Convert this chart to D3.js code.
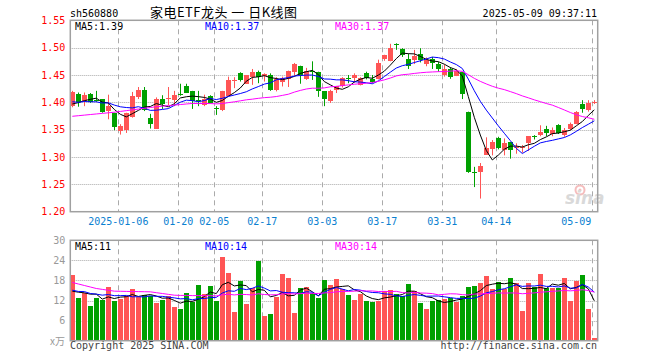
<!DOCTYPE html>
<html>
<head>
<meta charset="utf-8">
<script src="https://cdn.jsdelivr.net/npm/d3@7"></script>
<style>
  body { margin: 0; background: #fff; }
  text { font-family: "DejaVu Sans Mono", monospace; font-size: 10px; }
</style>
</head>
<body>
<div class="chart"></div>
<script>
// Trading days shown
const dates = [
  "2024-12-24","2024-12-25","2024-12-26","2024-12-27","2024-12-30","2024-12-31",
  "2025-01-02","2025-01-03","2025-01-06","2025-01-07","2025-01-08","2025-01-09","2025-01-10",
  "2025-01-13","2025-01-14","2025-01-15","2025-01-16","2025-01-17","2025-01-20","2025-01-21",
  "2025-01-22","2025-01-23","2025-01-24","2025-01-27","2025-02-05","2025-02-06","2025-02-07",
  "2025-02-10","2025-02-11","2025-02-12","2025-02-13","2025-02-14","2025-02-17","2025-02-18",
  "2025-02-19","2025-02-20","2025-02-21","2025-02-24","2025-02-25","2025-02-26","2025-02-27",
  "2025-02-28","2025-03-03","2025-03-04","2025-03-05","2025-03-06","2025-03-07","2025-03-10",
  "2025-03-11","2025-03-12","2025-03-13","2025-03-14","2025-03-17","2025-03-18","2025-03-19",
  "2025-03-20","2025-03-21","2025-03-24","2025-03-25","2025-03-26","2025-03-27","2025-03-28",
  "2025-03-31","2025-04-01","2025-04-02","2025-04-03","2025-04-07","2025-04-08","2025-04-09",
  "2025-04-10","2025-04-11","2025-04-14","2025-04-15","2025-04-16","2025-04-17","2025-04-18",
  "2025-04-21","2025-04-22","2025-04-23","2025-04-24","2025-04-25","2025-04-28","2025-04-29",
  "2025-04-30","2025-05-06","2025-05-07","2025-05-08","2025-05-09"
];

const open = [
  1.394,1.415,1.403,1.415,1.405,1.406,1.383,1.381,1.347,1.349,
  1.373,1.410,1.423,1.372,1.353,1.407,1.407,1.404,1.415,1.430,
  1.421,1.404,1.396,1.412,1.389,1.385,1.412,1.440,1.453,1.434,
  1.446,1.455,1.449,1.450,1.421,1.436,1.444,1.456,1.467,1.443,
  1.457,1.455,1.420,1.401,1.421,1.429,1.444,1.444,1.433,1.454,
  1.443,1.443,1.479,1.477,1.506,1.498,1.479,1.477,1.488,1.470,
  1.480,1.471,1.450,1.461,1.448,1.455,1.383,1.272,1.273,1.305,
  1.316,1.335,1.312,1.327,1.317,1.318,1.325,1.339,1.340,1.351,
  1.342,1.358,1.340,1.350,1.361,1.397,1.387,1.400
];
const high = [
  1.421,1.418,1.418,1.417,1.421,1.406,1.414,1.381,1.360,1.381,
  1.419,1.428,1.428,1.379,1.409,1.413,1.428,1.421,1.434,1.434,
  1.421,1.421,1.414,1.413,1.393,1.421,1.447,1.446,1.455,1.450,
  1.461,1.458,1.453,1.453,1.446,1.447,1.458,1.472,1.467,1.463,
  1.475,1.456,1.420,1.423,1.430,1.446,1.450,1.453,1.446,1.456,
  1.450,1.478,1.487,1.507,1.508,1.499,1.489,1.496,1.499,1.482,
  1.483,1.474,1.469,1.464,1.461,1.455,1.383,1.282,1.289,1.336,
  1.331,1.337,1.334,1.327,1.325,1.322,1.338,1.340,1.358,1.357,
  1.354,1.360,1.353,1.363,1.384,1.404,1.404,1.404
];
const low = [
  1.391,1.392,1.393,1.399,1.401,1.381,1.369,1.349,1.341,1.344,
  1.372,1.406,1.384,1.352,1.352,1.388,1.395,1.393,1.412,1.417,
  1.388,1.393,1.393,1.398,1.377,1.384,1.412,1.426,1.438,1.434,
  1.432,1.435,1.438,1.421,1.420,1.429,1.428,1.449,1.434,1.441,
  1.441,1.410,1.393,1.399,1.417,1.427,1.435,1.436,1.431,1.442,
  1.435,1.442,1.476,1.475,1.496,1.483,1.461,1.470,1.473,1.466,
  1.461,1.456,1.447,1.443,1.448,1.406,1.271,1.245,1.224,1.304,
  1.303,1.314,1.303,1.297,1.306,1.308,1.311,1.332,1.338,1.338,
  1.338,1.342,1.337,1.349,1.360,1.381,1.383,1.397
];
const close = [
  1.419,1.401,1.414,1.400,1.404,1.383,1.393,1.355,1.356,1.380,
  1.412,1.423,1.386,1.361,1.407,1.397,1.408,1.414,1.414,1.418,
  1.403,1.403,1.407,1.399,1.388,1.420,1.441,1.441,1.441,1.450,
  1.455,1.446,1.452,1.423,1.442,1.444,1.458,1.470,1.450,1.458,
  1.456,1.420,1.406,1.420,1.429,1.444,1.443,1.450,1.445,1.445,
  1.437,1.472,1.486,1.500,1.505,1.487,1.467,1.484,1.477,1.478,
  1.472,1.461,1.461,1.446,1.458,1.415,1.273,1.271,1.284,1.317,
  1.328,1.317,1.325,1.312,1.318,1.319,1.338,1.338,1.346,1.343,
  1.349,1.343,1.350,1.360,1.383,1.388,1.399,1.401
];
// Volume, x10k
const volume = [
  19.6,12.7,14.3,10.3,12.7,12.1,16.0,11.9,12.4,13.3,
  15.4,13.1,13.6,13.5,11.2,12.1,13.4,10.0,9.4,14.2,
  11.7,16.6,13.9,16.3,11.9,24.9,20.2,8.5,17.8,10.9,
  15.6,23.7,7.4,7.9,13.0,19.9,18.8,8.2,15.7,16.0,
  14.4,12.7,18.1,16.6,18.4,15.3,13.6,12.1,13.9,11.9,
  11.5,11.9,14.8,15.1,13.9,13.3,16.9,14.8,11.3,9.4,
  11.9,12.1,12.4,12.7,11.6,13.5,16.0,16.3,17.3,19.3,
  15.5,17.5,15.5,18.7,17.3,8.9,17.3,16.1,19.9,15.6,
  15.7,15.6,18.7,11.9,17.8,19.6,9.5,0.8
];

// Days before the window, only used to seed the moving averages
const preClose = [
  1.369,1.382,1.368,1.372,1.351,1.361,1.323,1.313,1.337,1.369,
  1.380,1.343,1.318,1.364,1.367,1.378,1.384,1.384,1.388,1.373,
  1.410,1.400,1.405,1.405,1.405,1.389,1.396,1.3875,1.3935
];
const preVolume = [
  26.2,27.8,23.8,26.2,20.1,24.0,19.9,13.4,14.3,16.4,
  14.1,14.6,14.5,18.7,19.6,20.9,17.5,11.4,14.2,13.4,
  16.5,14.8,15.9,14.6,15.2,14.2,15.3,12.3,12.6
];

const priceTicks = [1.20, 1.25, 1.30, 1.35, 1.40, 1.45, 1.50, 1.55];
const volumeTicks = [6, 12, 18, 24, 30];
const dateTicks = ["2025-01-06","2025-01-20","2025-02-05","2025-02-17","2025-03-03",
  "2025-03-17","2025-03-31","2025-04-14","2025-05-09"];
const dateTickLabels = ["2025-01-06","01-20","02-05","02-17","03-03","03-17","03-31","04-14","05-09"];

const svgWidth = 660;
const svgHeight = 360;

const left = 70.3, right = 597.7;
const priceTop = 20.3, priceBottom = 211.7;
const volTop = 240.3, volBottom = 340.7;

const red = "#ff5555";
const green = "#00a000";
const gridColor = "#aaa";

const svg = d3.select(".chart")
  .append("svg")
  .attr("width", svgWidth)
  .attr("height", svgHeight);

// Scales
const x = d3.scaleBand().domain(dates).range([69.3, 597.3]);
const cx = i => x(dates[i]) + x.bandwidth() / 2;
const yPrice = d3.scaleLinear().domain([1.20, 1.55]).range([priceBottom, priceTop]);
const yVol = d3.scaleLinear().domain([0, 30]).range([volBottom, volTop]);

// Moving averages
function movingAvg(pre, values, n) {
  const all = pre.concat(values);
  return values.map((v, i) => {
    const end = pre.length + i + 1;
    return d3.mean(all.slice(end - n, end));
  });
}
const ma = [5, 10, 30].map(n => movingAvg(preClose, close, n));
const volMa = [5, 10, 30].map(n => movingAvg(preVolume, volume, n));
const maColors = ["#000", "#0000ff", "#ff00ff"];

// Grid lines
const grid = svg.append("g");
grid.selectAll(".hp")
  .data(priceTicks.slice(1, -1))
  .enter()
  .append("line")
  .attr("x1", left).attr("x2", right)
  .attr("y1", d => Math.round(yPrice(d)) + 0.5)
  .attr("y2", d => Math.round(yPrice(d)) + 0.5)
  .attr("stroke", gridColor)
  .attr("stroke-dasharray", "1,1");
grid.selectAll(".hv")
  .data(volumeTicks.slice(0, -1))
  .enter()
  .append("line")
  .attr("x1", left).attr("x2", right)
  .attr("y1", d => Math.round(yVol(d)) + 0.5)
  .attr("y2", d => Math.round(yVol(d)) + 0.5)
  .attr("stroke", gridColor)
  .attr("stroke-dasharray", "1,1");
[[priceTop, priceBottom], [volTop, volBottom]].forEach(([t, b]) => {
  grid.selectAll(null)
    .data(dateTicks)
    .enter()
    .append("line")
    .attr("x1", d => Math.round(x(d)) + 1.5)
    .attr("x2", d => Math.round(x(d)) + 1.5)
    .attr("y1", t).attr("y2", b)
    .attr("stroke", gridColor)
    .attr("stroke-dasharray", "5,4");
});

// Watermark
const logo = svg.append("g").attr("opacity", 0.55);
logo.append("circle").attr("cx", 580).attr("cy", 190).attr("r", 4.5)
  .attr("fill", "none").attr("stroke", "#e88").attr("stroke-width", 2);
logo.append("circle").attr("cx", 580).attr("cy", 190).attr("r", 1.5).attr("fill", "#e88");
logo.append("text").attr("x", 565).attr("y", 204)
  .style("font-family", "DejaVu Sans").style("font-size", "17px")
  .style("font-style", "italic").style("font-weight", "bold")
  .attr("fill", "#bbb").text("sina");

// Candles
const candles = svg.append("g")
  .selectAll("g")
  .data(dates)
  .enter()
  .append("g");
candles.append("line")
  .attr("x1", (d, i) => Math.floor(cx(i)) + 0.5)
  .attr("x2", (d, i) => Math.floor(cx(i)) + 0.5)
  .attr("y1", (d, i) => yPrice(high[i]))
  .attr("y2", (d, i) => yPrice(low[i]))
  .attr("stroke", (d, i) => close[i] >= open[i] ? red : green);
candles.append("rect")
  .attr("x", (d, i) => Math.floor(cx(i)) - 2)
  .attr("width", 5)
  .attr("y", (d, i) => Math.round(yPrice(Math.max(open[i], close[i]))))
  .attr("height", (d, i) => Math.max(1, Math.round(Math.abs(yPrice(open[i]) - yPrice(close[i])))))
  .attr("fill", (d, i) => close[i] >= open[i] ? red : green)
  .attr("shape-rendering", "crispEdges");

// Volume bars
svg.append("g")
  .selectAll("rect")
  .data(volume)
  .enter()
  .append("rect")
  .attr("x", (d, i) => Math.floor(cx(i)) - 2)
  .attr("width", 5)
  .attr("y", d => Math.round(yVol(d)))
  .attr("height", d => Math.round(volBottom) - Math.round(yVol(d)))
  .attr("fill", (d, i) => close[i] >= open[i] ? red : green)
  .attr("shape-rendering", "crispEdges");

// MA lines
const priceLine = d3.line().x((d, i) => cx(i)).y(d => yPrice(d));
const volLine = d3.line().x((d, i) => cx(i)).y(d => yVol(d));
ma.forEach((m, k) => {
  svg.append("path").attr("d", priceLine(m))
    .attr("fill", "none").attr("stroke", maColors[k]).attr("stroke-width", 1);
});
volMa.forEach((m, k) => {
  svg.append("path").attr("d", volLine(m))
    .attr("fill", "none").attr("stroke", maColors[k]).attr("stroke-width", 1);
});

// Frames
[[priceTop, priceBottom], [volTop, volBottom]].forEach(([t, b]) => {
  svg.append("rect")
    .attr("x", left).attr("y", t)
    .attr("width", right - left).attr("height", b - t)
    .attr("fill", "none")
    .attr("stroke", "#a0a0a0")
    .attr("stroke-width", 1.5);
});

// Axes
const priceAxis = svg.append("g")
  .attr("transform", `translate(${left}, 0)`)
  .call(d3.axisLeft(yPrice).tickValues(priceTicks).tickFormat(d3.format(".2f")).tickSize(0).tickPadding(5));
priceAxis.select(".domain").remove();
priceAxis.selectAll("text").attr("fill", "#f00").style("font-size", "10px");

const volAxis = svg.append("g")
  .attr("transform", `translate(${left}, 0)`)
  .call(d3.axisLeft(yVol).tickValues(volumeTicks).tickSize(0).tickPadding(5));
volAxis.select(".domain").remove();
volAxis.selectAll("text").attr("fill", "#999");

const dateAxis = svg.append("g")
  .attr("transform", `translate(-2, ${priceBottom})`)
  .call(d3.axisBottom(x).tickValues(dateTicks)
    .tickFormat(d => dateTickLabels[dateTicks.indexOf(d)]).tickSize(0).tickPadding(6));
dateAxis.select(".domain").remove();
dateAxis.selectAll("text").attr("fill", "#0a80d0");
dateAxis.selectAll("text").filter(d => d === "2025-05-09")
  .attr("text-anchor", "end").attr("dx", "-1");

// Headings
svg.append("text").attr("x", 70).attr("y", 16.5).attr("fill", "#000").text("sh560880");
svg.append("text").attr("x", 150).attr("y", 17)
  .style("font-family", "'Noto Sans CJK SC', sans-serif").style("font-size", "13px")
  .attr("textLength", 147).attr("lengthAdjust", "spacing")
  .attr("fill", "#000").text("家电ETF龙头 一 日K线图");
svg.append("text").attr("x", 597).attr("y", 16.5).attr("text-anchor", "end")
  .attr("fill", "#000").text("2025-05-09 09:37:11");

// MA legends
const last = close.length - 1;
const maNames = ["MA5", "MA10", "MA30"];
const legendX = [75, 205, 335];
maNames.forEach((name, k) => {
  svg.append("text").attr("x", legendX[k]).attr("y", 29.5).attr("fill", maColors[k])
    .text(`${name}:${d3.format(".2f")(ma[k][last])}`);
  svg.append("text").attr("x", legendX[k]).attr("y", 249.5).attr("fill", maColors[k])
    .text(`${name}:${Math.floor(volMa[k][last])}`);
});

// Footer
svg.append("text").attr("x", 65).attr("y", 345).attr("text-anchor", "end")
  .style("font-family", "'Noto Sans CJK SC', sans-serif").style("font-size", "10px")
  .attr("fill", "#999").text("x万");
svg.append("text").attr("x", 70).attr("y", 349).attr("fill", "#444").text("Copyright 2025 SINA.COM");
svg.append("text").attr("x", 597).attr("y", 349).attr("text-anchor", "end")
  .attr("fill", "#444").text("http://finance.sina.com.cn");
</script>
</body>
</html>
